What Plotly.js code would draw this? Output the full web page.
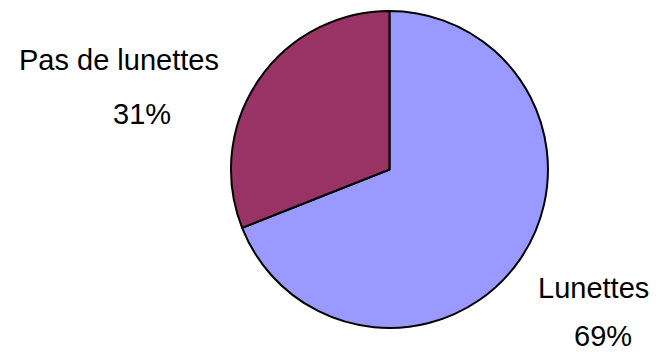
<!DOCTYPE html>
<html>
<head>
<meta charset="utf-8">
<script src="https://cdn.plot.ly/plotly-3.0.1.min.js"></script>
<style>html,body{margin:0;padding:0;background:#fff;}#chart{width:659px;height:354px;}</style>
</head>
<body>
<div id="chart"></div>
<script>
const labels = ["Lunettes", "Pas de lunettes"];
const values = [69, 31];
const colors = ["#9999FF", "#993366"];

const total = values.reduce((a, b) => a + b, 0);
const pct = values.map(v => Math.round(v / total * 100) + "%");

// [x, y, yanchor] in paper coordinates
const labelPos = [
  {name: [0.901, 0.186, "middle"], pct: [0.915, 0.0, "bottom"]},
  {name: [0.181, 0.83, "middle"], pct: [0.216, 0.679, "middle"]}
];

const fnt = {family: "Liberation Sans, Arial, sans-serif", size: 29, color: "#000"};
const annotations = [];
labels.forEach((lab, i) => {
  const n = labelPos[i].name, p = labelPos[i].pct;
  annotations.push({text: lab, x: n[0], y: n[1], xref: "paper", yref: "paper",
    xanchor: "center", yanchor: n[2], showarrow: false, font: fnt});
  annotations.push({text: pct[i], x: p[0], y: p[1], xref: "paper", yref: "paper",
    xanchor: "center", yanchor: p[2], showarrow: false, font: fnt});
});

const trace = {
  type: "pie",
  labels: labels,
  values: values,
  sort: false,
  direction: "clockwise",
  rotation: 0,
  textinfo: "none",
  hoverinfo: "none",
  marker: {colors: colors, line: {color: "#000", width: 2}},
  domain: {x: [0.350, 0.832], y: [0.0735, 0.9689]},
  showlegend: false
};

const layout = {
  width: 659, height: 354,
  margin: {l: 0, r: 0, t: 0, b: 0},
  paper_bgcolor: "#fff",
  showlegend: false,
  annotations: annotations
};

Plotly.newPlot("chart", [trace], layout, {displayModeBar: false, staticPlot: true});
</script>
</body>
</html>
